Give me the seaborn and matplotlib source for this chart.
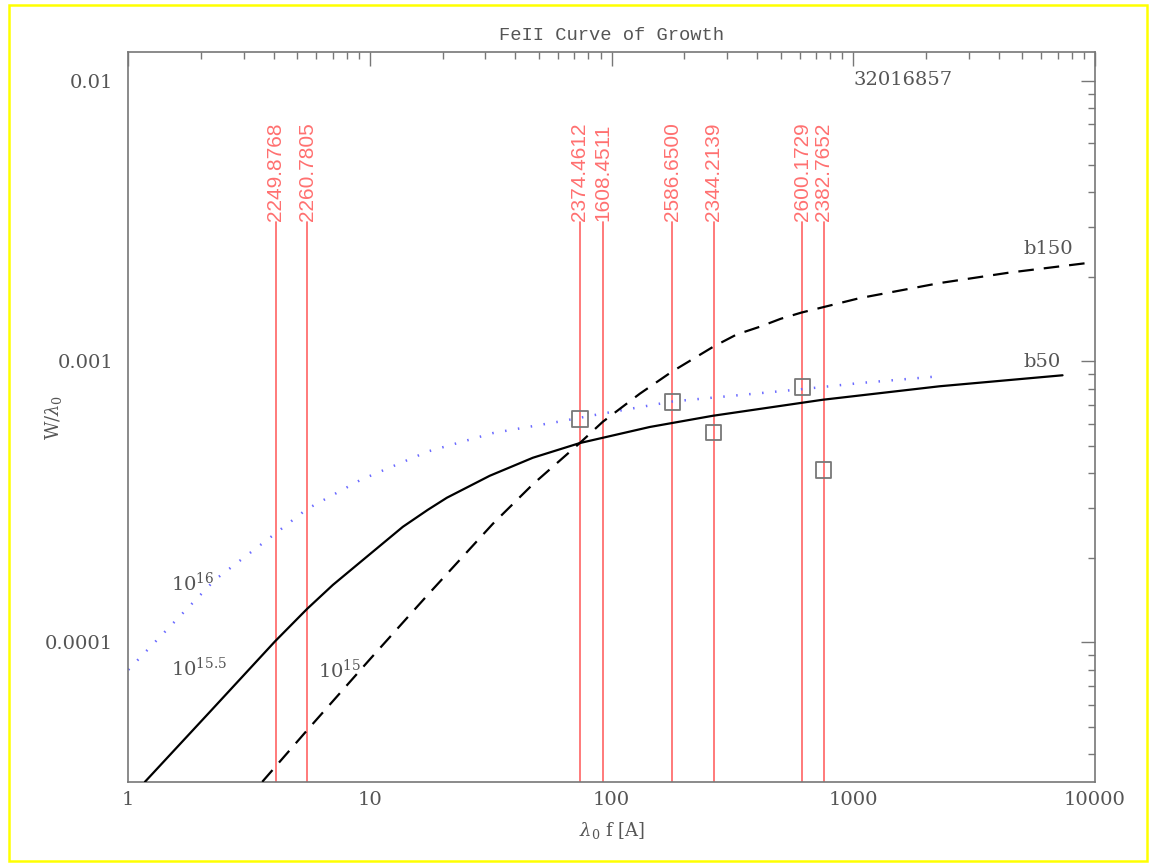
import matplotlib
matplotlib.use("Agg")
import matplotlib.pyplot as plt
import matplotlib.transforms as mtransforms
from matplotlib.patches import Rectangle
from matplotlib.ticker import FixedLocator, FixedFormatter, LogLocator, NullFormatter
import pandas as pd
import seaborn as sns

# Curve of growth, b = 50 km/s, N = 10^15.5 (solid)
b50_x = [1.172, 2.177, 4.044, 5.483, 7.025, 9.083, 13.68, 17.36, 20.80, 31.3, 47.2,
         73.8, 143.8, 262.0, 746.0, 2275.0, 7340.0]
b50_y = [3.185e-5, 5.656e-5, 1.007e-4, 1.313e-4, 1.601e-4, 1.924e-4, 2.578e-4,
         2.964e-4, 3.271e-4, 3.917e-4, 4.541e-4, 5.122e-4, 5.844e-4, 6.406e-4,
         7.305e-4, 8.160e-4, 8.930e-4]

# Curve of growth, b = 150 km/s, N = 10^15 (dashed)
b150_x = [3.583, 5.483, 9.99, 17.36, 32.24, 47.2, 73.8, 91.9, 130.7, 177.3, 264.4,
          329.2, 409.8, 500.5, 611.2, 1062.0, 2275.0, 4430.0, 9858.0]
b150_y = [3.185e-5, 4.852e-5, 8.697e-5, 1.477e-4, 2.642e-4, 3.653e-4, 5.122e-4,
          6.099e-4, 7.674e-4, 9.190e-4, 1.131e-3, 1.248e-3, 1.329e-3, 1.419e-3,
          1.494e-3, 1.681e-3, 1.902e-3, 2.073e-3, 2.256e-3]

# Curve of growth, N = 10^16 (blue dotted)
n16_x = [1.0, 2.284, 4.044, 5.483, 9.17, 17.36, 32.24, 61.0, 89.3, 178.9, 617.0, 1062.0, 2211.0]
n16_y = [7.98e-5, 1.670e-4, 2.434e-4, 2.981e-4, 3.791e-4, 4.781e-4, 5.559e-4,
         6.113e-4, 6.496e-4, 7.204e-4, 7.973e-4, 8.377e-4, 8.842e-4]

# Fe II transitions: rest wavelength label and lambda_0 f
line_labels = ["2249.8768", "2260.7805", "2374.4612", "1608.4511",
               "2586.6500", "2344.2139", "2600.1729", "2382.7652"]
line_lf = [4.08, 5.50, 73.9, 92.1, 178.4, 264.4, 615.0, 754.0]

# Measured equivalent widths
meas_lf = [73.9, 178.4, 264.4, 615.0, 754.0]
meas_w = [6.235e-4, 7.169e-4, 5.587e-4, 8.107e-4, 4.114e-4]

x_ticks = [1, 10, 100, 1000, 10000]
x_ticklabels = ["1", "10", "100", "1000", "10000"]
y_ticks = [1e-4, 1e-3, 1e-2]
y_ticklabels = ["0.0001", "0.001", "0.01"]

sns.set_theme(style="white")
plt.rcParams["font.family"] = ["DejaVu Serif"]
plt.rcParams["mathtext.fontset"] = "dejavuserif"

W, H = 1154, 865
fig = plt.figure(figsize=(W / 100, H / 100), dpi=100)
ax = fig.add_axes([128.3 / W, 1 - 782.3 / H, (1095 - 128.3) / W, (782.3 - 52.3) / H])
ax.set_xscale("log")
ax.set_yscale("log")

text_col = "#555555"
axis_col = "#777777"
red = "#ff7070"

# Fe II line markers
trans = mtransforms.blended_transform_factory(ax.transData, ax.transAxes)
for lab, lf in zip(line_labels, line_lf):
    ax.axvline(lf, ymin=0, ymax=0.7675, color=red, lw=1.3, zorder=1)
    ax.text(lf, 0.769, lab, transform=trans, rotation=90, ha="center", va="bottom",
            color=red, fontsize=15, family="Liberation Sans")

df_b50 = pd.DataFrame({"lf": b50_x, "w": b50_y})
df_b150 = pd.DataFrame({"lf": b150_x, "w": b150_y})
df_n16 = pd.DataFrame({"lf": n16_x, "w": n16_y})

sns.lineplot(data=df_n16, x="lf", y="w", ax=ax, color="#6a6aff", lw=1.8,
             linestyle=(0, (0.6, 4.6)), zorder=2)
sns.lineplot(data=df_b50, x="lf", y="w", ax=ax, color="black", lw=1.6, zorder=3)
sns.lineplot(data=df_b150, x="lf", y="w", ax=ax, color="black", lw=1.6,
             linestyle=(0, (7, 4.5)), zorder=3)

df_meas = pd.DataFrame({"lf": meas_lf, "w": meas_w})
sns.scatterplot(data=df_meas, x="lf", y="w", ax=ax, marker="s", s=125,
                facecolor="none", edgecolor="#777777", linewidth=1.3, zorder=4)

ax.set_xlim(1, 10000)
ax.set_ylim(10 ** -4.4986, 10 ** -1.899)

# Ticks
ax.xaxis.set_major_locator(FixedLocator(x_ticks))
ax.xaxis.set_major_formatter(FixedFormatter(x_ticklabels))
ax.yaxis.set_major_locator(FixedLocator(y_ticks))
ax.yaxis.set_major_formatter(FixedFormatter(y_ticklabels))
ax.xaxis.set_minor_locator(LogLocator(base=10, subs=range(2, 10)))
ax.yaxis.set_minor_locator(LogLocator(base=10, subs=range(2, 10)))
ax.xaxis.set_minor_formatter(NullFormatter())
ax.yaxis.set_minor_formatter(NullFormatter())
ax.tick_params(which="both", direction="in", top=True, right=True,
               color=axis_col, labelcolor=text_col, labelsize=14, width=1.0)
ax.tick_params(which="major", length=10)
ax.tick_params(which="minor", length=5)
ax.tick_params(axis="y", pad=11)
ax.tick_params(axis="x", pad=6)
for sp in ax.spines.values():
    sp.set_color(axis_col)
    sp.set_linewidth(1.2)

ax.set_xlabel(r"$\lambda_0$ f [A]", color=text_col, fontsize=13, labelpad=8)
ax.set_ylabel(r"W/$\lambda_0$", color=text_col, fontsize=13)
ax.yaxis.set_label_coords(-0.077, 0.5)
ax.yaxis.label.set_va("center")
ax.set_title("FeII Curve of Growth", color=text_col, fontsize=13.5,
             family="Liberation Mono", pad=9)

# Annotations
ax.text(0.7501, 0.962, "32016857", transform=ax.transAxes, ha="left", va="center",
        color=text_col, fontsize=14)
ax.text(0.9258, 0.7305, "b150", transform=ax.transAxes, ha="left", va="center",
        color=text_col, fontsize=14)
ax.text(0.9258, 0.5762, "b50", transform=ax.transAxes, ha="left", va="center",
        color=text_col, fontsize=14)
ax.text(0.0445, 0.2726, r"10$^{16}$", transform=ax.transAxes, ha="left", va="center",
        color=text_col, fontsize=14)
ax.text(0.0445, 0.1562, r"10$^{15.5}$", transform=ax.transAxes, ha="left", va="center",
        color=text_col, fontsize=14)
ax.text(0.1965, 0.1538, r"10$^{15}$", transform=ax.transAxes, ha="left", va="center",
        color=text_col, fontsize=14)

# Frame around the figure
fig.patches.append(Rectangle((9.3 / W, 1 - 861 / H), (1147 - 9.3) / W, (861 - 4.7) / H,
                             transform=fig.transFigure, fill=False,
                             edgecolor="#ffff00", lw=1.8))

fig.savefig("out.png", dpi=100)
